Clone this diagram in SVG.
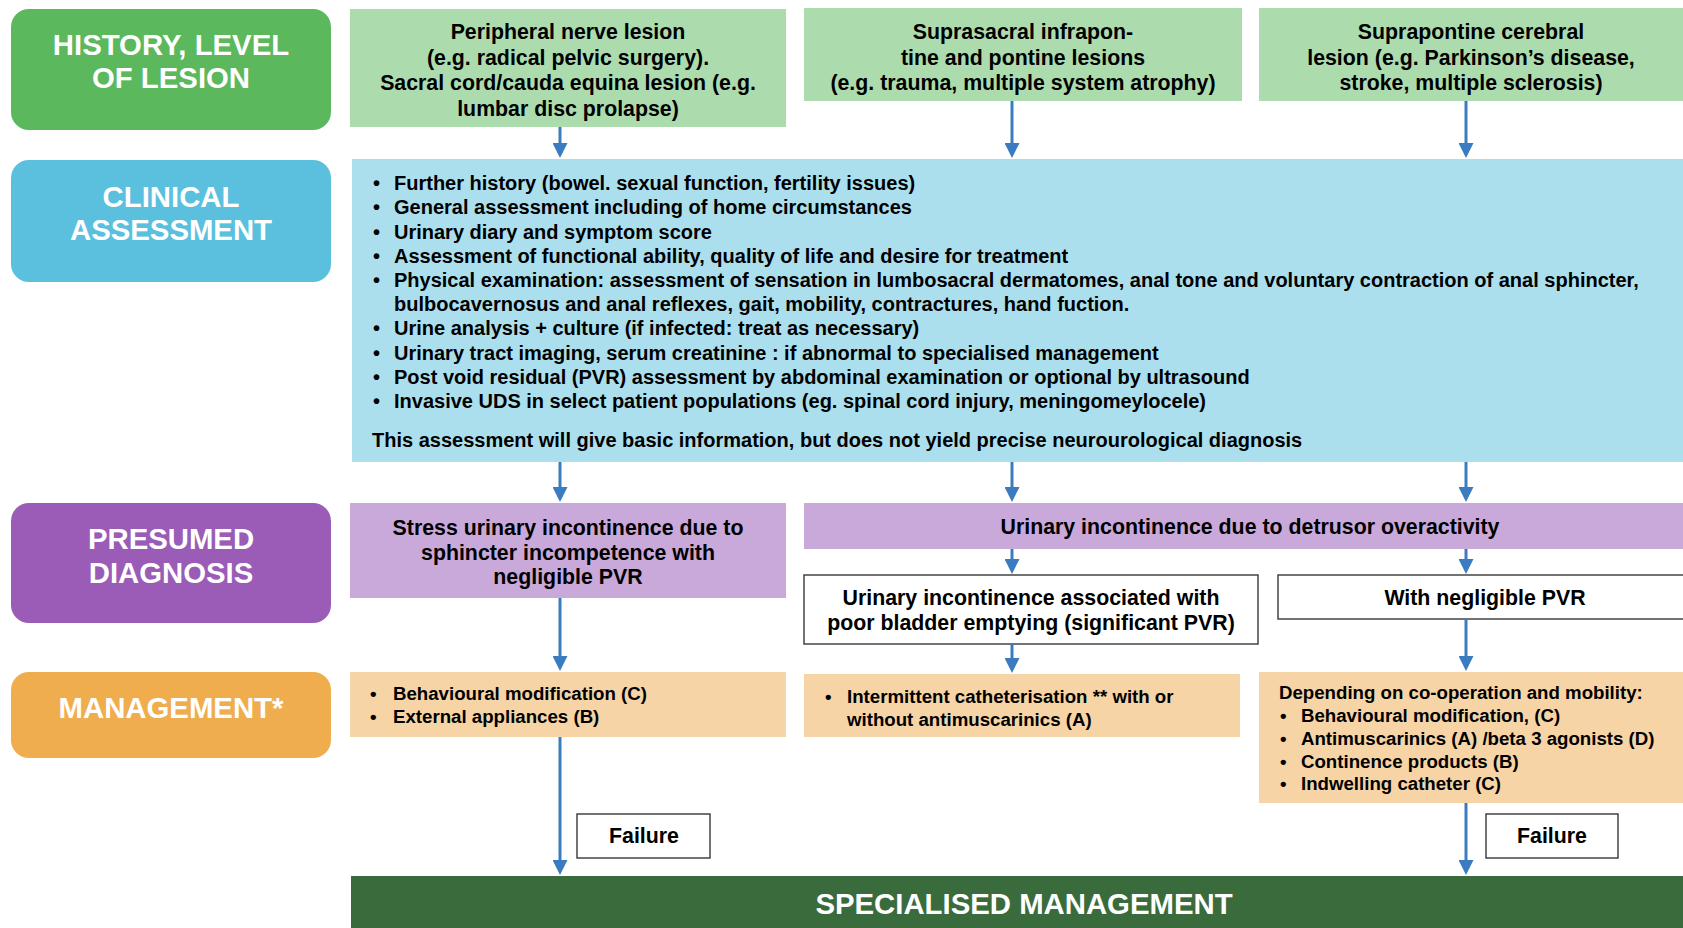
<svg xmlns="http://www.w3.org/2000/svg" width="1683" height="928" viewBox="0 0 1683 928">
<style>
text{font-family:"Liberation Sans",Arial,sans-serif;font-weight:bold;fill:#000}
.lbl{font-size:29.33px;fill:#fff;text-anchor:middle}
.c21{font-size:21.33px;text-anchor:middle}
.t20{font-size:20px}
.t18{font-size:18.67px}
.arr{stroke:#3a7cbf;stroke-width:3;fill:none;marker-end:url(#ah)}
.wb{fill:#fff;stroke:#444;stroke-width:1.5}
</style>
<defs>
<marker id="ah" markerUnits="userSpaceOnUse" markerWidth="15" markerHeight="15" viewBox="0 0 15 15" refX="5" refY="7.5" orient="auto">
<path d="M0,0 L15,7.5 L0,15 z" fill="#3a7cbf"/>
</marker>
</defs>
<rect width="1683" height="928" fill="#fff"/>

<g id="lbl-history">
<rect x="11" y="9" width="320" height="121" rx="18" fill="#5cb85c"/>
<text class="lbl" x="171" y="55">HISTORY, LEVEL</text>
<text class="lbl" x="171" y="88">OF LESION</text>
</g>
<g id="lbl-clinical">
<rect x="11" y="160" width="320" height="122" rx="18" fill="#5bc0de"/>
<text class="lbl" x="171" y="207">CLINICAL</text>
<text class="lbl" x="171" y="240">ASSESSMENT</text>
</g>
<g id="lbl-presumed">
<rect x="11" y="503" width="320" height="120" rx="18" fill="#9a5cb6"/>
<text class="lbl" x="171" y="549">PRESUMED</text>
<text class="lbl" x="171" y="583">DIAGNOSIS</text>
</g>
<g id="lbl-management">
<rect x="11" y="672" width="320" height="86" rx="18" fill="#efad4e"/>
<text class="lbl" x="171" y="718">MANAGEMENT*</text>
</g>

<g id="lesion-peripheral">
<rect x="350" y="9" width="436" height="118" fill="#acdcae"/>
<text class="c21" x="568" y="39">Peripheral nerve lesion</text>
<text class="c21" x="568" y="64.5">(e.g. radical pelvic surgery).</text>
<text class="c21" x="568" y="90">Sacral cord/cauda equina lesion (e.g.</text>
<text class="c21" x="568" y="115.5">lumbar disc prolapse)</text>
</g>
<g id="lesion-infrapontine">
<rect x="804" y="8" width="438" height="93" fill="#acdcae"/>
<text class="c21" x="1023" y="39">Suprasacral infrapon-</text>
<text class="c21" x="1023" y="64.5">tine and pontine lesions</text>
<text class="c21" x="1023" y="90">(e.g. trauma, multiple system atrophy)</text>
</g>
<g id="lesion-suprapontine">
<rect x="1259" y="8" width="424" height="93" fill="#acdcae"/>
<text class="c21" x="1471" y="39">Suprapontine cerebral</text>
<text class="c21" x="1471" y="64.5">lesion (e.g. Parkinson’s disease,</text>
<text class="c21" x="1471" y="90">stroke, multiple sclerosis)</text>
</g>

<g id="clinical-assessment">
<rect x="352" y="159" width="1331" height="303" fill="#acdfee"/>
<g class="t20">
<text x="373" y="190">•</text><text x="394" y="190">Further history (bowel. sexual function, fertility issues)</text>
<text x="373" y="214">•</text><text x="394" y="214">General assessment including of home circumstances</text>
<text x="373" y="238.5">•</text><text x="394" y="238.5">Urinary diary and symptom score</text>
<text x="373" y="262.5">•</text><text x="394" y="262.5">Assessment of functional ability, quality of life and desire for treatment</text>
<text x="373" y="287">•</text><text x="394" y="287">Physical examination: assessment of sensation in lumbosacral dermatomes, anal tone and voluntary contraction of anal sphincter,</text>
<text x="394" y="311">bulbocavernosus and anal reflexes, gait, mobility, contractures, hand fuction.</text>
<text x="373" y="335">•</text><text x="394" y="335">Urine analysis + culture (if infected: treat as necessary)</text>
<text x="373" y="359.5">•</text><text x="394" y="359.5">Urinary tract imaging, serum creatinine : if abnormal to specialised management</text>
<text x="373" y="384">•</text><text x="394" y="384">Post void residual (PVR) assessment by abdominal examination or optional by ultrasound</text>
<text x="373" y="408">•</text><text x="394" y="408">Invasive UDS in select patient populations (eg. spinal cord injury, meningomeylocele)</text>
<text x="372" y="447">This assessment will give basic information, but does not yield precise neurourological diagnosis</text>
</g>
</g>

<g id="dx-stress">
<rect x="350" y="503" width="436" height="95" fill="#c9a9da"/>
<text class="c21" x="568" y="535">Stress urinary incontinence due to</text>
<text class="c21" x="568" y="559.5">sphincter incompetence with</text>
<text class="c21" x="568" y="584">negligible PVR</text>
</g>
<g id="dx-detrusor">
<rect x="804" y="503" width="879" height="46" fill="#c9a9da"/>
<text class="c21" x="1250" y="534">Urinary incontinence due to detrusor overactivity</text>
</g>
<g id="dx-poor-emptying">
<rect class="wb" x="804" y="575" width="454" height="69"/>
<text class="c21" x="1031" y="605">Urinary incontinence associated with</text>
<text class="c21" x="1031" y="630">poor bladder emptying (significant PVR)</text>
</g>
<g id="dx-negligible">
<rect class="wb" x="1278" y="575" width="410" height="44"/>
<text class="c21" x="1485" y="605">With negligible PVR</text>
</g>

<g id="mgmt-stress">
<rect x="350" y="672" width="436" height="65" fill="#f7d4a6"/>
<g class="t18">
<text x="370" y="700">•</text><text x="393" y="700">Behavioural modification (C)</text>
<text x="370" y="723">•</text><text x="393" y="723">External appliances (B)</text>
</g>
</g>
<g id="mgmt-catheter">
<rect x="804" y="674" width="436" height="63" fill="#f7d4a6"/>
<g class="t18">
<text x="825" y="703">•</text><text x="847" y="703">Intermittent catheterisation ** with or</text>
<text x="847" y="725.5">without antimuscarinics (A)</text>
</g>
</g>
<g id="mgmt-negligible">
<rect x="1259" y="672" width="424" height="131" fill="#f7d4a6"/>
<g class="t18">
<text x="1279" y="699">Depending on co-operation and mobility:</text>
<text x="1280" y="722">•</text><text x="1301" y="722">Behavioural modification, (C)</text>
<text x="1280" y="745">•</text><text x="1301" y="745">Antimuscarinics (A) /beta 3 agonists (D)</text>
<text x="1280" y="767.5">•</text><text x="1301" y="767.5">Continence products (B)</text>
<text x="1280" y="790">•</text><text x="1301" y="790">Indwelling catheter (C)</text>
</g>
</g>

<g id="failure-1">
<rect class="wb" x="577" y="814" width="133" height="44"/>
<text class="c21" x="644" y="843">Failure</text>
</g>
<g id="failure-2">
<rect class="wb" x="1486" y="814" width="132" height="44"/>
<text class="c21" x="1552" y="843">Failure</text>
</g>

<g id="specialised">
<rect x="351" y="876" width="1332" height="52" fill="#3a6b3c"/>
<text class="lbl" x="1024" y="914">SPECIALISED MANAGEMENT</text>
</g>

<g id="connectors">
<line class="arr" x1="560" y1="127" x2="560" y2="148"/>
<line class="arr" x1="1012" y1="101" x2="1012" y2="148"/>
<line class="arr" x1="1466" y1="101" x2="1466" y2="148"/>
<line class="arr" x1="560" y1="462" x2="560" y2="492"/>
<line class="arr" x1="1012" y1="462" x2="1012" y2="492"/>
<line class="arr" x1="1466" y1="462" x2="1466" y2="492"/>
<line class="arr" x1="560" y1="598" x2="560" y2="661"/>
<line class="arr" x1="1012" y1="549" x2="1012" y2="564"/>
<line class="arr" x1="1466" y1="549" x2="1466" y2="564"/>
<line class="arr" x1="1012" y1="644" x2="1012" y2="663"/>
<line class="arr" x1="1466" y1="619" x2="1466" y2="661"/>
<line class="arr" x1="560" y1="737" x2="560" y2="865"/>
<line class="arr" x1="1466" y1="803" x2="1466" y2="865"/>
</g>
</svg>
